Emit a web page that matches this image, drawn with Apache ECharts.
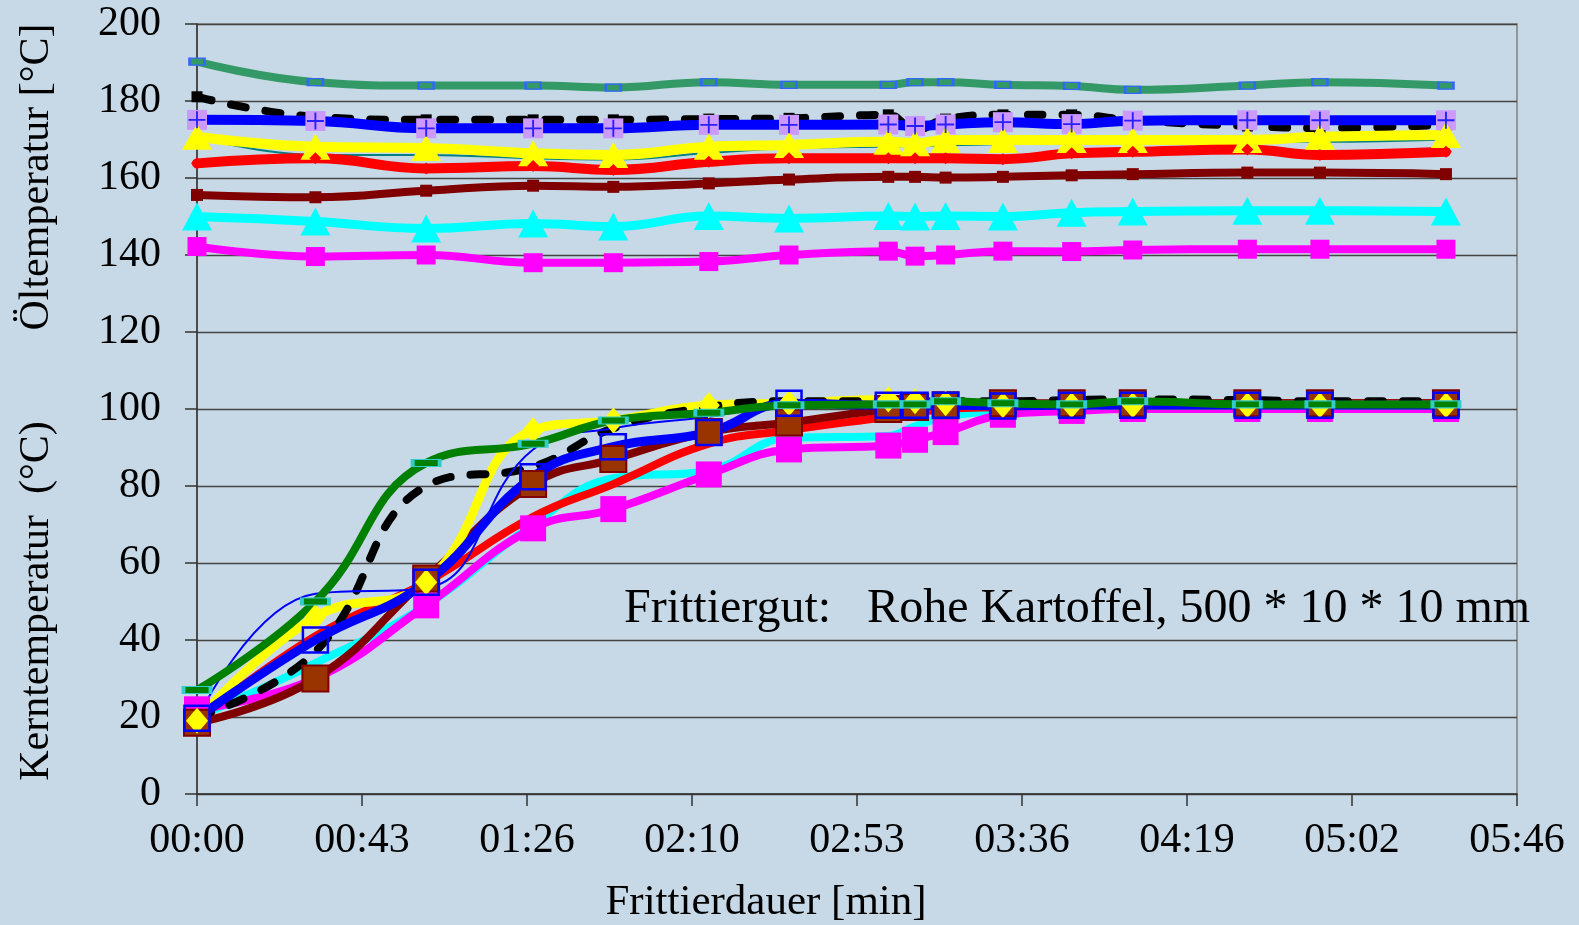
<!DOCTYPE html>
<html>
<head>
<meta charset="utf-8">
<script src="https://cdn.jsdelivr.net/npm/echarts@6/dist/echarts.min.js"></script>
<style>
html,body{margin:0;padding:0;background:#C7D9E6;}
#chart{width:1579px;height:925px;}
</style>
</head>
<body>
<div id="chart"></div>
<script>
// time of each measurement [s]
const times = [0, 31, 60, 88, 109, 134, 155, 181, 188, 196, 211, 229, 245, 275, 294, 327];
const xTickSeconds = [0, 43.2, 86.4, 129.6, 172.8, 216, 259.2, 302.4, 345.6];
const yTicks = [0, 20, 40, 60, 80, 100, 120, 140, 160, 180, 200];

// Öltemperatur (upper curves)
const oilGreen   = [190.2, 184.9, 184.0, 184.0, 183.5, 184.9, 184.2, 184.2, 184.9, 184.9, 184.2, 183.9, 182.9, 184.0, 184.9, 184.0];
const oilBlack   = [181.1, 175.9, 175.1, 175.1, 175.1, 175.3, 175.5, 176.4, 172.5, 175.3, 176.4, 176.4, 175.0, 173.5, 173.0, 173.8];
const oilBlue    = [175.1, 174.8, 172.9, 172.9, 172.9, 173.8, 173.8, 173.9, 173.5, 173.9, 174.5, 174.0, 174.9, 175.0, 175.0, 175.0];
const oilYellow  = [170.7, 168.1, 167.8, 166.4, 166.0, 168.1, 168.6, 169.4, 169.0, 169.9, 169.9, 169.9, 169.9, 169.9, 170.7, 171.2];
const oilTeal    = [170.7, 166.0, 166.0, 165.1, 164.8, 166.5, 167.7, 168.2, 168.3, 168.5, 168.8, 169.0, 169.2, 169.5, 169.4, 170.0];
const oilRed     = [163.8, 165.1, 162.5, 163.1, 162.1, 164.2, 165.1, 165.1, 165.1, 165.1, 164.9, 166.4, 166.8, 167.4, 166.0, 166.8];
const oilMaroon  = [155.6, 155.0, 156.7, 158.0, 157.7, 158.6, 159.6, 160.3, 160.3, 160.1, 160.3, 160.7, 161.0, 161.4, 161.4, 161.0];
const oilCyan    = [150.0, 148.7, 146.9, 148.2, 147.4, 150.1, 149.5, 150.1, 150.0, 150.1, 150.0, 151.0, 151.3, 151.5, 151.5, 151.3];
const oilMagenta = [142.2, 139.6, 140.0, 138.0, 138.0, 138.3, 140.0, 141.0, 139.7, 140.0, 141.0, 140.9, 141.3, 141.5, 141.5, 141.5];

// Kerntemperatur (lower curves)
const coreGreen    = [27, 50, 86, 91, 97, 99, 101, 101.2, 101.2, 102, 101.5, 101.2, 102, 101.2, 101.2, 101.2];
const coreBlack    = [20, 37, 80, 85, 95, 100.5, 102, 102, 102, 102, 102, 102.3, 102.5, 102.3, 102, 102];
const coreBlue     = [19.7, 40, 55, 82.4, 90.2, 93.9, 101.5, 101, 101, 101, 100.8, 101, 101, 101, 101, 101];
const coreThinBlue = [19.5, 52, 53.5, 89.5, 95, 98, 101, 101, 101, 101, 101, 101, 101, 101, 101, 101];
const coreYellow   = [19, 46, 55, 94.5, 97, 101, 101.5, 102.5, 102, 101.5, 101, 101, 101, 101, 101, 101];
const coreRed      = [19, 41, 55, 72, 80.5, 91, 94.5, 98, 99, 100, 100.5, 101, 101, 101.5, 101.5, 101.5];
const coreMaroon   = [18.5, 30, 56, 80.5, 87, 94, 96.5, 100, 100.5, 101, 101.5, 101.5, 101.5, 101.5, 101.5, 101.5];
const coreCyan     = [20, 34, 49, 70, 82, 84, 92.5, 93, 95.5, 98, 99.5, 100, 100, 100, 100, 100];
const coreMagenta  = [22, 30, 49, 69, 74, 83, 89.5, 90.5, 92, 94, 98.5, 99.5, 100, 100, 100, 100];

const FONT = 'Liberation Serif';
const pts = arr => times.map((t, i) => [t, arr[i]]);

function line(name, arr, color, width, opts) {
  opts = opts || {};
  return {
    name: name, type: 'line', data: pts(arr), smooth: 0.45, clip: false,
    lineStyle: { color: color, width: width, type: opts.dash || 'solid', cap: 'round', join: 'round' },
    symbol: opts.symbol || 'none', symbolSize: opts.size || 0,
    itemStyle: Object.assign({ color: color }, opts.item || {}),
    z: opts.z || 2
  };
}

function fmt(v) {
  const s = Math.round(v);
  const m = Math.floor(s / 60), ss = s % 60;
  return String(m).padStart(2, '0') + ':' + String(ss).padStart(2, '0');
}

const series = [
  // upper
  line('Öl grün', oilGreen, '#339966', 8, { symbol: 'rect', size: [15, 7], item: { color: '#339966', borderColor: '#3366FF', borderWidth: 1.8 } }),
  line('Öl schwarz', oilBlack, '#000000', 8, { dash: [15, 20], symbol: 'rect', size: 11 }),
  line('Öl blau', oilBlue, '#0000FF', 10, { symbol: 'rect', size: 20, item: { color: '#CC99FF' } }),
  { name: 'Öl blau +', type: 'scatter', data: pts(oilBlue), clip: false,
    symbol: 'path://M8.9,0H11.1V8.9H20V11.1H11.1V20H8.9V11.1H0V8.9H8.9Z', symbolSize: 17,
    itemStyle: { color: '#0000FF' }, z: 3 },
  line('Öl türkis', oilTeal, '#008080', 2),
  line('Öl gelb', oilYellow, '#FFFF00', 10, { symbol: 'triangle', size: [30, 26] }),
  line('Öl rot', oilRed, '#FF0000', 10, { symbol: 'diamond', size: 12 }),
  line('Öl dunkelrot', oilMaroon, '#800000', 8, { symbol: 'rect', size: 12 }),
  line('Öl cyan', oilCyan, '#00FFFF', 9, { symbol: 'triangle', size: [30, 28] }),
  line('Öl magenta', oilMagenta, '#FF00FF', 8, { symbol: 'rect', size: 19 }),
  // lower
  line('Kern cyan', coreCyan, '#00FFFF', 8),
  line('Kern magenta', coreMagenta, '#FF00FF', 8, { symbol: 'rect', size: 26 }),
  line('Kern rot', coreRed, '#FF0000', 8),
  line('Kern dunkelrot', coreMaroon, '#800000', 8, { symbol: 'rect', size: 26, item: { color: '#993300', borderColor: '#800000', borderWidth: 2 } }),
  line('Kern gelb', coreYellow, '#FFFF00', 9, { symbol: 'diamond', size: [22, 26] }),
  line('Kern schwarz', coreBlack, '#000000', 8, { dash: [15, 20] }),
  line('Kern blau dünn', coreThinBlue, '#0000FF', 2),
  line('Kern blau', coreBlue, '#0000FF', 9, { symbol: 'rect', size: 25, item: { color: 'rgba(0,0,0,0)', borderColor: '#0000FF', borderWidth: 2.5 } }),
  line('Kern grün', coreGreen, '#008000', 8, { symbol: 'rect', size: [27, 7], item: { color: '#008000', borderColor: '#33CCCC', borderWidth: 2 } })
];

const chart = echarts.init(document.getElementById('chart'));
chart.setOption({
  animation: false,
  backgroundColor: '#C7D9E6',
  grid: { left: 197, right: 62, top: 24, bottom: 131, show: true, borderColor: '#808080', borderWidth: 1.5, backgroundColor: 'transparent' },
  xAxis: {
    type: 'value', min: xTickSeconds[0], max: xTickSeconds[xTickSeconds.length - 1], interval: xTickSeconds[1],
    axisLine: { lineStyle: { color: '#333', width: 1.5 } },
    axisTick: { show: true, length: 12, lineStyle: { color: '#333', width: 1.5 } },
    splitLine: { show: false },
    axisLabel: { fontFamily: FONT, fontSize: 42, color: '#000', margin: 26, formatter: fmt, showMaxLabel: true, showMinLabel: true }
  },
  yAxis: {
    type: 'value', min: yTicks[0], max: yTicks[yTicks.length - 1], interval: yTicks[1] - yTicks[0],
    axisLine: { show: true, lineStyle: { color: '#333', width: 1.5 } },
    axisTick: { show: true, length: 12, lineStyle: { color: '#333', width: 1.5 } },
    splitLine: { show: true, lineStyle: { color: '#444', width: 1.3 } },
    axisLabel: { fontFamily: FONT, fontSize: 42, color: '#000', margin: 36 }
  },
  graphic: [
    { type: 'text', x: 37, y: 177, rotation: Math.PI / 2,
      style: { text: 'Öltemperatur [°C]', fontFamily: FONT, fontSize: 42, fill: '#000', align: 'center', verticalAlign: 'middle' } },
    { type: 'text', x: 37, y: 601, rotation: Math.PI / 2,
      style: { text: 'Kerntemperatur  (°C)', fontFamily: FONT, fontSize: 42, fill: '#000', align: 'center', verticalAlign: 'middle' } },
    { type: 'text', x: 766, y: 903,
      style: { text: 'Frittierdauer [min]', fontFamily: FONT, fontSize: 43, fill: '#000', align: 'center', verticalAlign: 'middle' } },
    { type: 'text', x: 624, y: 609, z: 100,
      style: { text: 'Frittiergut:   Rohe Kartoffel, 500 * 10 * 10 mm', fontFamily: FONT, fontSize: 48, fill: '#000', align: 'left', verticalAlign: 'middle' } }
  ],
  series: series
});
</script>
</body>
</html>
